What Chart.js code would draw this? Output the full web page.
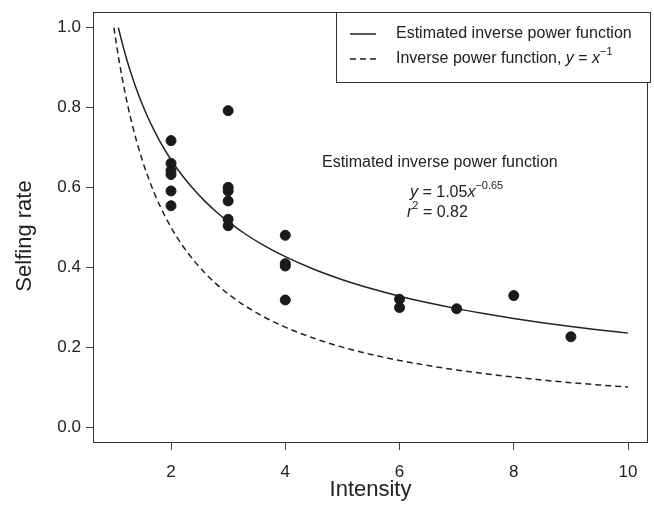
<!DOCTYPE html>
<html lang="en">
<head>
<meta charset="UTF-8">
<title>Selfing rate vs intensity</title>
<style>
  body { margin: 0; background: #fff; }
  #wrap { width: 654px; height: 506px; }
</style>
</head>
<body>
<div id="wrap"><canvas id="selfingChart" width="654" height="506"></canvas></div>
<script src="https://cdn.jsdelivr.net/npm/chart.js"></script>
<script>
// observed points
var intensity   = [2, 2, 2, 2, 2, 2, 3, 3, 3, 3, 3, 3, 4, 4, 4, 4, 6, 6, 7, 8, 9];
var selfingRate = [0.717, 0.660, 0.642, 0.632, 0.591, 0.554,
                   0.792, 0.600, 0.591, 0.566, 0.520, 0.504,
                   0.480, 0.409, 0.403, 0.318,
                   0.320, 0.299, 0.296, 0.329, 0.226];

var xTicks = [2, 4, 6, 8, 10];
var yTicks = [0, 0.2, 0.4, 0.6, 0.8, 1.0];

// curves: estimated y = 1.05 x^-0.65 and reference y = x^-1
var fitA = 1.05, fitB = -0.65;
var curveX = [1, 1.03, 1.06, 1.078, 1.1, 1.13, 1.16, 1.2, 1.25, 1.3, 1.4, 1.5, 1.6, 1.7, 1.8, 2,
              2.2, 2.4, 2.6, 2.8, 3, 3.3, 3.6, 4, 4.5, 5, 5.5, 6, 6.5, 7, 7.5, 8, 8.5, 9, 9.5, 10];

var fitLine = curveX.map(function (x) { return { x: x, y: fitA * Math.pow(x, fitB) }; })
                    .filter(function (p) { return p.y <= 1.0001; });
var invLine = curveX.map(function (x) { return { x: x, y: 1 / x }; });

var FONT = '"Liberation Sans", Arial, sans-serif';
var INK = '#222';

// draw a run of text pieces (normal / italic / superscript)
function richText(ctx, x, y, parts, size) {
    ctx.textBaseline = 'middle';
    ctx.textAlign = 'left';
    parts.forEach(function (p) {
        var s = p.sup ? Math.round(size * 0.7) : size;
        ctx.font = (p.it ? 'italic ' : '') + s + 'px ' + FONT;
        var yy = p.sup ? y - size * 0.42 : y;
        ctx.fillText(p.t, x, yy);
        x += ctx.measureText(p.t).width;
    });
}

// no extra room for tick label overflow, the plot box is fixed
function noOverflow(s) {
    s.paddingTop = 0; s.paddingBottom = 0; s.paddingLeft = 0; s.paddingRight = 0;
}

var decorations = {
    id: 'decorations',
    afterDraw: function (chart) {
        var ctx = chart.ctx, a = chart.chartArea;
        ctx.save();
        // frame
        ctx.strokeStyle = '#333';
        ctx.lineWidth = 1;
        ctx.strokeRect(Math.round(a.left) + 0.5, Math.round(a.top) + 0.5,
                       Math.round(a.right - a.left) - 1, Math.round(a.bottom - a.top) - 1);

        // y axis title (sits a little below the plot centre in the original)
        ctx.save();
        ctx.translate(25, 236);
        ctx.rotate(-Math.PI / 2);
        ctx.fillStyle = INK;
        ctx.font = '22px ' + FONT;
        ctx.textAlign = 'center';
        ctx.textBaseline = 'middle';
        ctx.fillText('Selfing rate', 0, 0);
        ctx.restore();

        // legend box
        ctx.fillStyle = '#fff';
        ctx.fillRect(336.5, 12.5, 314, 70);
        ctx.strokeRect(336.5, 12.5, 314, 70);
        ctx.strokeStyle = INK;
        ctx.lineWidth = 1.5;
        ctx.beginPath(); ctx.moveTo(350, 34); ctx.lineTo(376, 34); ctx.stroke();
        ctx.setLineDash([6, 4]);
        ctx.beginPath(); ctx.moveTo(350, 59); ctx.lineTo(378, 59); ctx.stroke();
        ctx.setLineDash([]);
        ctx.fillStyle = INK;
        richText(ctx, 396, 34, [{ t: 'Estimated inverse power function' }], 16);
        richText(ctx, 396, 59, [{ t: 'Inverse power function, ' }, { t: 'y', it: true },
                                { t: ' = ' }, { t: 'x', it: true }, { t: '\u22121', sup: true }], 16);

        // annotation
        richText(ctx, 322, 163, [{ t: 'Estimated inverse power function' }], 16);
        richText(ctx, 410, 193, [{ t: 'y', it: true }, { t: ' = 1.05' }, { t: 'x', it: true },
                                 { t: '\u22120.65', sup: true }], 16);
        richText(ctx, 407, 213, [{ t: 'r', it: true }, { t: '2', sup: true }, { t: ' = 0.82' }], 16);
        ctx.restore();
    }
};

var ctx = document.getElementById('selfingChart').getContext('2d');
var chart = new Chart(ctx, {
    type: 'scatter',
    data: {
        datasets: [
            {
                label: 'Observed',
                data: intensity.map(function (x, i) { return { x: x, y: selfingRate[i] }; }),
                backgroundColor: '#1a1a1a',
                borderColor: '#1a1a1a',
                pointRadius: 5,
                pointHoverRadius: 5
            },
            {
                label: 'Estimated inverse power function',
                data: fitLine,
                showLine: true,
                borderColor: INK,
                borderWidth: 1.5,
                pointRadius: 0,
                cubicInterpolationMode: 'monotone'
            },
            {
                label: 'Inverse power function, y = x^-1',
                data: invLine,
                showLine: true,
                borderColor: INK,
                borderWidth: 1.5,
                borderDash: [6, 4],
                pointRadius: 0,
                cubicInterpolationMode: 'monotone'
            }
        ]
    },
    options: {
        responsive: false,
        animation: false,
        layout: { padding: { left: 0, right: 3, top: 12, bottom: 0 } },
        plugins: {
            legend: { display: false },
            tooltip: { enabled: false }
        },
        scales: {
            x: {
                type: 'linear',
                min: 0.634,
                max: 10.35,
                afterBuildTicks: function (s) { s.ticks = xTicks.map(function (v) { return { value: v }; }); },
                afterFit: function (s) { s.height = 63; noOverflow(s); },
                border: { display: false },
                grid: { drawOnChartArea: false, drawTicks: true, tickLength: 7, color: '#444' },
                ticks: { color: INK, font: { family: FONT, size: 17 }, padding: 12, maxRotation: 0 },
                title: { display: true, text: 'Intensity', color: INK,
                         font: { family: FONT, size: 22 }, padding: { top: 0, bottom: 3 } }
            },
            y: {
                type: 'linear',
                min: -0.040,
                max: 1.039,
                afterBuildTicks: function (s) { s.ticks = yTicks.map(function (v) { return { value: v }; }); },
                afterFit: function (s) { s.width = 93; noOverflow(s); },
                border: { display: false },
                grid: { drawOnChartArea: false, drawTicks: true, tickLength: 7, color: '#444' },
                ticks: { color: INK, font: { family: FONT, size: 17 }, padding: 5,
                         callback: function (v) { return v.toFixed(1); } },
                title: { display: false }
            }
        }
    },
    plugins: [decorations]
});
</script>
</body>
</html>
